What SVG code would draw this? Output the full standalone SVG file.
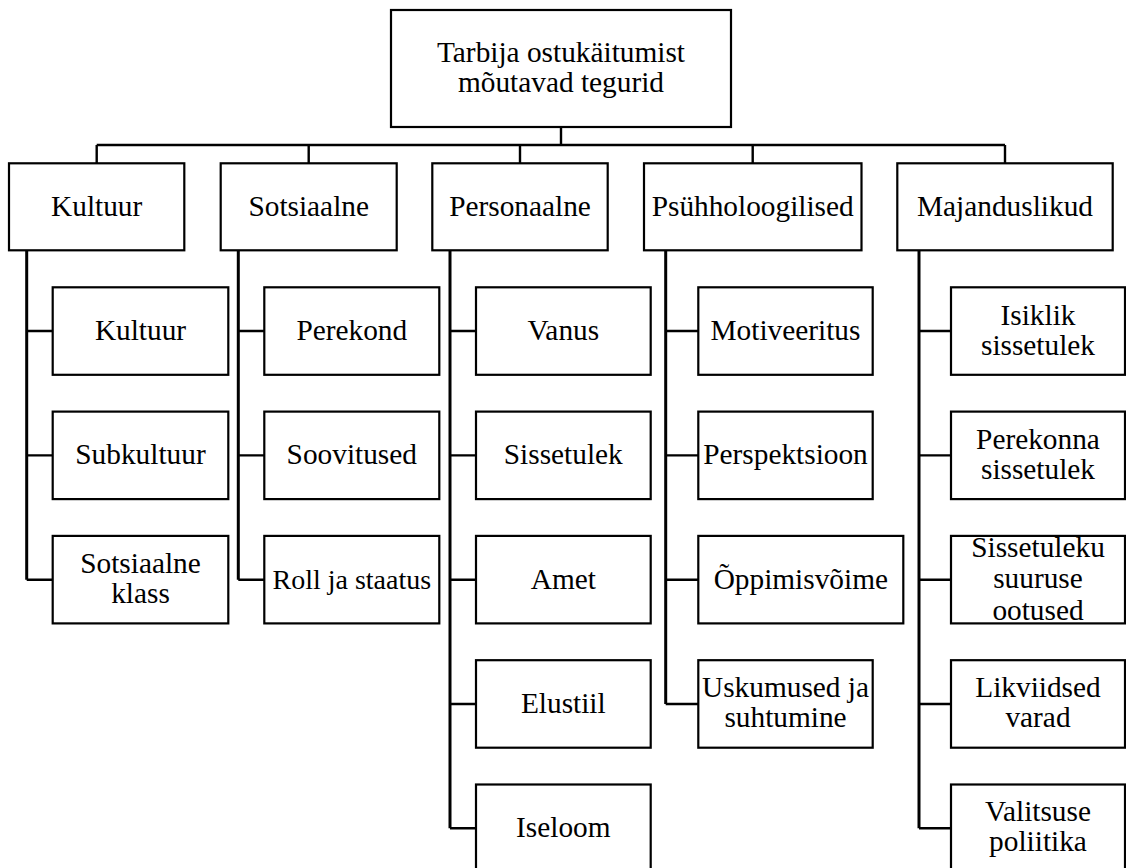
<svg xmlns="http://www.w3.org/2000/svg" width="1126" height="868" viewBox="0 0 1126 868">
<style>
.box{fill:#fff;stroke:#000;stroke-width:2.2}
.c{fill:none;stroke:#000;stroke-width:2.4}
.v{fill:none;stroke:#000;stroke-width:3}
.t text{font-family:'Liberation Serif','Times New Roman',serif;font-size:29.33px;fill:#000;text-anchor:middle}
</style>
<rect width="1126" height="868" fill="#fff"/>
<g id="connectors">
<path class="c" d="M561 127V145M96.7 145H1005M96.7 145V163.3M308.7 145V163.3M520 145V163.3M752.7 145V163.3M1005 145V163.3"/>
<path class="v" d="M26.7 250.3V579.7M238.3 250.3V579.7M450 250.3V828.3M665.7 250.3V704M919 250.3V828.3"/>
<path class="c" d="M26.7 331H52.7M26.7 455.4H52.7M26.7 579.7H52.7"/>
<path class="c" d="M238.3 331H264.3M238.3 455.4H264.3M238.3 579.7H264.3"/>
<path class="c" d="M450 331H476M450 455.4H476M450 579.7H476M450 704H476M450 828.3H476"/>
<path class="c" d="M665.7 331H698.3M665.7 455.4H698.3M665.7 579.7H698.3M665.7 704H698.3"/>
<path class="c" d="M919 331H951M919 455.4H951M919 579.7H951M919 704H951M919 828.3H951"/>
</g>
<g class="t" font-family="'Liberation Serif','Times New Roman',serif" font-size="29.33" text-anchor="middle">
<g id="root"><rect class="box" x="391" y="10" width="340" height="117"/><text x="561" y="62.3">Tarbija ostukäitumist</text><text x="561" y="92.3">mõutavad tegurid</text></g>
<g id="kultuur"><rect class="box" x="9" y="163.3" width="175.3" height="87"/><text x="96.7" y="216">Kultuur</text></g>
<g id="sotsiaalne"><rect class="box" x="220.7" y="163.3" width="176" height="87"/><text x="308.7" y="216">Sotsiaalne</text></g>
<g id="personaalne"><rect class="box" x="432.3" y="163.3" width="175.4" height="87"/><text x="520" y="216">Personaalne</text></g>
<g id="psyhholoogilised"><rect class="box" x="644" y="163.3" width="217.5" height="87"/><text x="752.7" y="216">Psühholoogilised</text></g>
<g id="majanduslikud"><rect class="box" x="897.3" y="163.3" width="215.4" height="87"/><text x="1005" y="216">Majanduslikud</text></g>

<g id="k-kultuur"><rect class="box" x="52.7" y="287.3" width="175.6" height="87.5"/><text x="140.5" y="340">Kultuur</text></g>
<g id="k-subkultuur"><rect class="box" x="52.7" y="411.6" width="175.6" height="87.5"/><text x="140.5" y="464.4">Subkultuur</text></g>
<g id="k-klass"><rect class="box" x="52.7" y="535.9" width="175.6" height="87.5"/><text x="140.5" y="572.7">Sotsiaalne</text><text x="140.5" y="602.7">klass</text></g>

<g id="s-perekond"><rect class="box" x="264.3" y="287.3" width="175" height="87.5"/><text x="351.8" y="340">Perekond</text></g>
<g id="s-soovitused"><rect class="box" x="264.3" y="411.6" width="175" height="87.5"/><text x="351.8" y="464.4">Soovitused</text></g>
<g id="s-roll"><rect class="box" x="264.3" y="535.9" width="175" height="87.5"/><text x="351.8" y="588.7" style="font-size:28px">Roll ja staatus</text></g>

<g id="p-vanus"><rect class="box" x="476" y="287.3" width="174.7" height="87.5"/><text x="563.3" y="340">Vanus</text></g>
<g id="p-sissetulek"><rect class="box" x="476" y="411.6" width="174.7" height="87.5"/><text x="563.3" y="464.4">Sissetulek</text></g>
<g id="p-amet"><rect class="box" x="476" y="535.9" width="174.7" height="87.5"/><text x="563.3" y="588.7">Amet</text></g>
<g id="p-elustiil"><rect class="box" x="476" y="660.2" width="174.7" height="87.5"/><text x="563.3" y="713">Elustiil</text></g>
<g id="p-iseloom"><rect class="box" x="476" y="784.5" width="174.7" height="87.5"/><text x="563.3" y="837.3">Iseloom</text></g>

<g id="ps-motiveeritus"><rect class="box" x="698.3" y="287.3" width="174.4" height="87.5"/><text x="785.5" y="340">Motiveeritus</text></g>
<g id="ps-perspektsioon"><rect class="box" x="698.3" y="411.6" width="174.4" height="87.5"/><text x="785.5" y="464.4">Perspektsioon</text></g>
<g id="ps-oppimisvoime"><rect class="box" x="698.3" y="535.9" width="205" height="87.5"/><text x="800.8" y="588.7">Õppimisvõime</text></g>
<g id="ps-uskumused"><rect class="box" x="698.3" y="660.2" width="174.4" height="87.5"/><text x="785.5" y="697">Uskumused ja</text><text x="785.5" y="727">suhtumine</text></g>

<g id="m-isiklik"><rect class="box" x="951" y="287.3" width="174" height="87.5"/><text x="1038" y="324.5">Isiklik</text><text x="1038" y="354.5">sissetulek</text></g>
<g id="m-perekonna"><rect class="box" x="951" y="411.6" width="174" height="87.5"/><text x="1038" y="448.9">Perekonna</text><text x="1038" y="478.9">sissetulek</text></g>
<g id="m-ootused"><rect class="box" x="951" y="535.9" width="174" height="87.5"/><text x="1038" y="556.7">Sissetuleku</text><text x="1038" y="588.3">suuruse</text><text x="1038" y="619.8">ootused</text></g>
<g id="m-likviidsed"><rect class="box" x="951" y="660.2" width="174" height="87.5"/><text x="1038" y="697">Likviidsed</text><text x="1038" y="727">varad</text></g>
<g id="m-valitsuse"><rect class="box" x="951" y="784.5" width="174" height="87.5"/><text x="1038" y="821.3">Valitsuse</text><text x="1038" y="851.3">poliitika</text></g>
</g>
</svg>
